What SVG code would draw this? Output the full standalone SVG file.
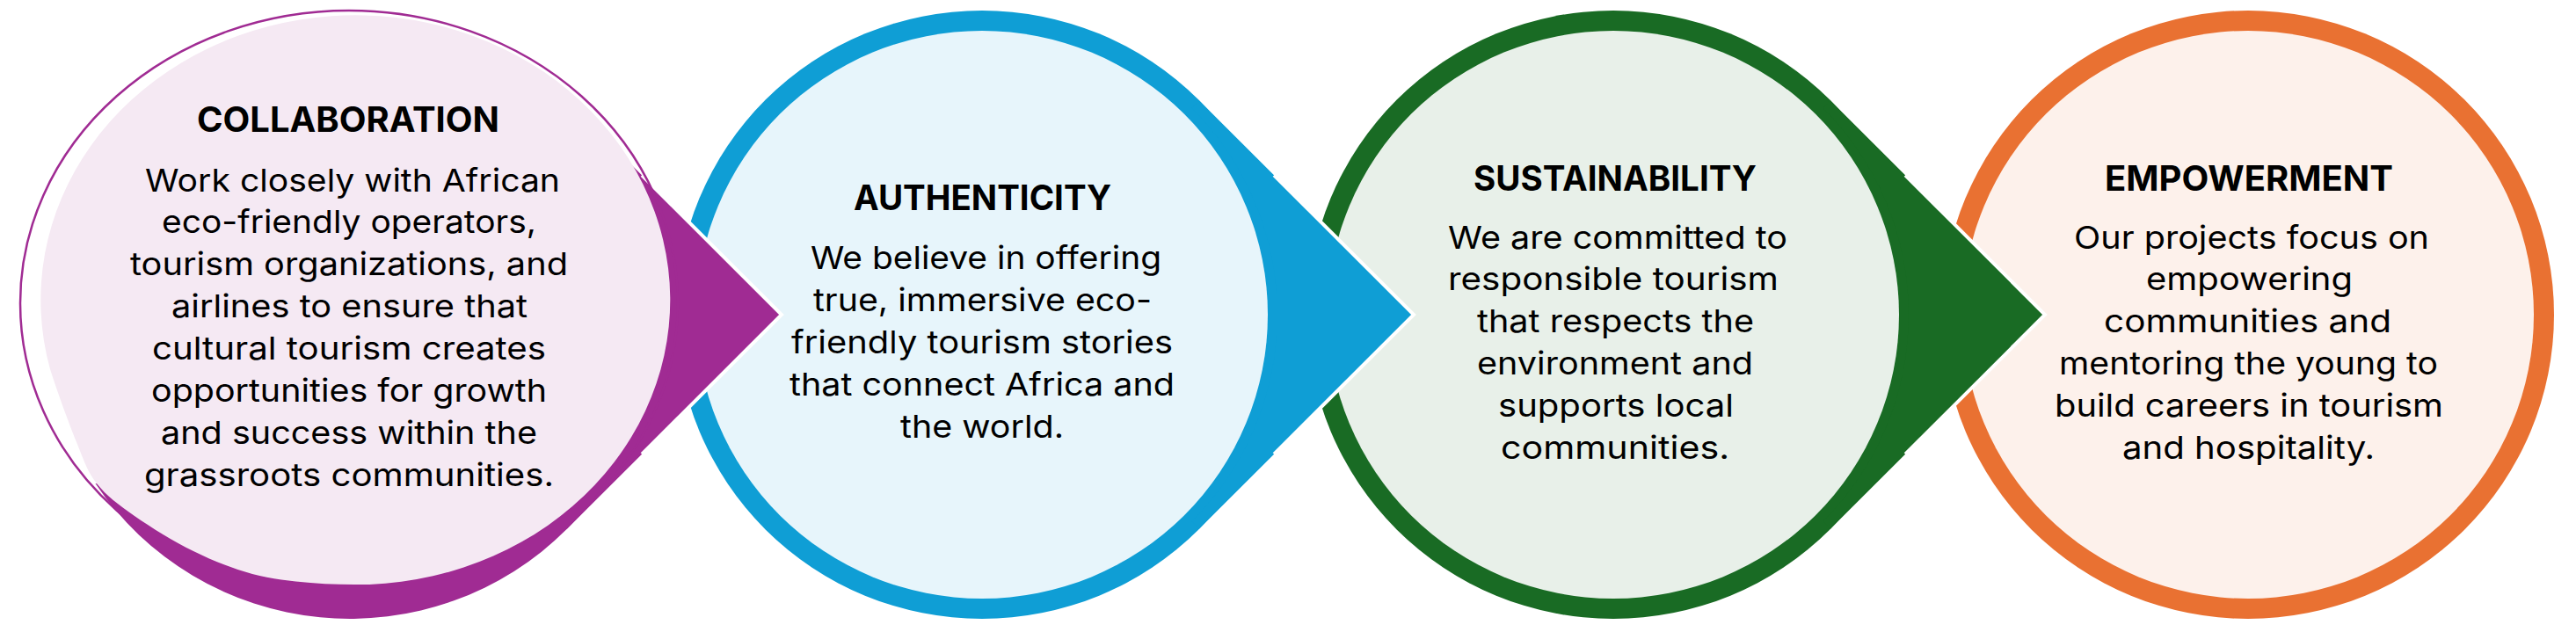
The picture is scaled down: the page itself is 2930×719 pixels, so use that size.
<svg xmlns="http://www.w3.org/2000/svg" width="2930" height="719" viewBox="0 0 2930 719">
<style>
.t{font-family:Inter,"Liberation Sans",sans-serif;font-weight:700;font-size:39px;text-anchor:middle;fill:#000}
.b{font-family:Inter,"Liberation Sans",sans-serif;font-weight:400;font-size:36px;text-anchor:middle;fill:#000}
.edge{fill:none;stroke:#fff;stroke-width:4;stroke-linejoin:miter}
</style>
<rect width="2930" height="719" fill="#fff"/>

<g id="node-empowerment">
<ellipse cx="2557" cy="358" rx="348" ry="346" fill="#E97132"/>
<ellipse cx="2557" cy="358" rx="325" ry="323" fill="#FDF1EB"/>
<text class="t" x="2558" y="216.5" textLength="328" lengthAdjust="spacingAndGlyphs">EMPOWERMENT</text>
<text class="b" x="2561" y="282.5" textLength="404" lengthAdjust="spacingAndGlyphs">Our projects focus on</text>
<text class="b" x="2558.5" y="329.5" textLength="235" lengthAdjust="spacingAndGlyphs">empowering</text>
<text class="b" x="2556.5" y="377.5" textLength="327" lengthAdjust="spacingAndGlyphs">communities and</text>
<text class="b" x="2557.5" y="425.5" textLength="431" lengthAdjust="spacingAndGlyphs">mentoring the young to</text>
<text class="b" x="2558" y="473.5" textLength="442" lengthAdjust="spacingAndGlyphs">build careers in tourism</text>
<text class="b" x="2557.5" y="521.5" textLength="287" lengthAdjust="spacingAndGlyphs">and hospitality.</text>
</g>

<g id="node-sustainability">
<ellipse cx="1835" cy="358" rx="348" ry="346" fill="#196B24"/>
<ellipse cx="1835" cy="358" rx="325" ry="323" fill="#E8F0E9"/>
<text class="t" x="1837" y="216.5" textLength="322" lengthAdjust="spacingAndGlyphs">SUSTAINABILITY</text>
<text class="b" x="1840" y="282.5" textLength="386" lengthAdjust="spacingAndGlyphs">We are committed to</text>
<text class="b" x="1835" y="329.5" textLength="376" lengthAdjust="spacingAndGlyphs">responsible tourism</text>
<text class="b" x="1837.5" y="377.5" textLength="315" lengthAdjust="spacingAndGlyphs">that respects the</text>
<text class="b" x="1837" y="425.5" textLength="314" lengthAdjust="spacingAndGlyphs">environment and</text>
<text class="b" x="1838" y="473.5" textLength="268" lengthAdjust="spacingAndGlyphs">supports local</text>
<text class="b" x="1837" y="521.5" textLength="260" lengthAdjust="spacingAndGlyphs">communities.</text>
</g>

<g id="node-authenticity">
<ellipse cx="1117" cy="358" rx="348" ry="346" fill="#0F9ED5"/>
<ellipse cx="1117" cy="358" rx="325" ry="323" fill="#E7F5FB"/>
<text class="t" x="1117.5" y="239" textLength="293" lengthAdjust="spacingAndGlyphs">AUTHENTICITY</text>
<text class="b" x="1121.5" y="306" textLength="399" lengthAdjust="spacingAndGlyphs">We believe in offering</text>
<text class="b" x="1117.5" y="354" textLength="385" lengthAdjust="spacingAndGlyphs">true, immersive eco-</text>
<text class="b" x="1117" y="402" textLength="434" lengthAdjust="spacingAndGlyphs">friendly tourism stories</text>
<text class="b" x="1117" y="450" textLength="438" lengthAdjust="spacingAndGlyphs">that connect Africa and</text>
<text class="b" x="1117" y="498" textLength="186" lengthAdjust="spacingAndGlyphs">the world.</text>
</g>

<g id="connectors">
<path d="M1363.6 113.9 L1608 358 L1363.6 602.1 L1355.8 592.9 A336 334 0 0 0 1355.8 123.1 Z" fill="#0F9ED5"/>
<path class="edge" d="M1449.1 199.3 L1608 358 L1449.1 516.7"/>
<path d="M2081.6 113.9 L2326 358 L2081.6 602.1 L2073.8 592.9 A336 334 0 0 0 2073.8 123.1 Z" fill="#196B24"/>
<path class="edge" d="M2167.1 199.3 L2326 358 L2167.1 516.7"/>
<path d="M644.6 113.9 L889 358 L644.6 602.1 L636.8 592.9 A336 334 0 0 0 636.8 123.1 Z" fill="#A02B93"/>
<path class="edge" d="M730.1 199.3 L889 358 L730.1 516.7"/>
</g>

<g id="node-collaboration">
<ellipse cx="397" cy="345" rx="374" ry="333" fill="none" stroke="#A02B93" stroke-width="2.5"/>
<path d="M108.5 550 A348 346 0 0 0 644.6 602.1 A348 346 0 0 0 644.6 113.9 L430 380 L200 560 Z" fill="#A02B93"/>
<path d="M57 420 C64 442.2 78.2 481.3 87 503 C95.8 524.7 99 536 110 550 C121 564 134.7 574.2 153 587 C171.3 599.8 197.7 616 220 627 C242.3 638 264.8 647 287 653 C309.2 659 330.8 661 353 663 C375.2 665 397.7 664.8 420 665 A358 324 0 1 0 57 420 Z" fill="#F5E9F3"/>
<text class="t" x="396" y="150" textLength="344" lengthAdjust="spacingAndGlyphs">COLLABORATION</text>
<text class="b" x="401" y="217.5" textLength="472" lengthAdjust="spacingAndGlyphs">Work closely with African</text>
<text class="b" x="397" y="265" textLength="426" lengthAdjust="spacingAndGlyphs">eco-friendly operators,</text>
<text class="b" x="397" y="313" textLength="498" lengthAdjust="spacingAndGlyphs">tourism organizations, and</text>
<text class="b" x="397.5" y="361" textLength="405" lengthAdjust="spacingAndGlyphs">airlines to ensure that</text>
<text class="b" x="397" y="409" textLength="448" lengthAdjust="spacingAndGlyphs">cultural tourism creates</text>
<text class="b" x="397" y="457" textLength="450" lengthAdjust="spacingAndGlyphs">opportunities for growth</text>
<text class="b" x="397" y="505" textLength="428" lengthAdjust="spacingAndGlyphs">and success within the</text>
<text class="b" x="397" y="553" textLength="466" lengthAdjust="spacingAndGlyphs">grassroots communities.</text>
</g>
</svg>
